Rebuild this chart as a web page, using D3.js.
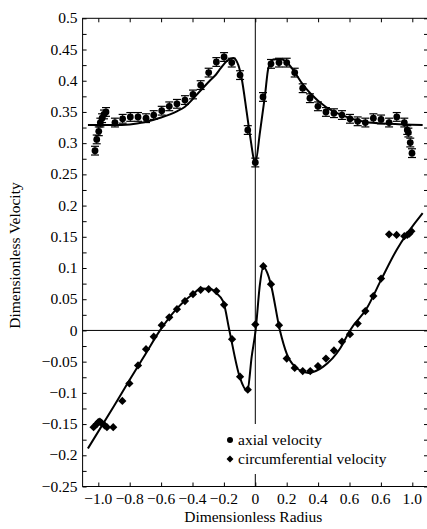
<!DOCTYPE html>
<html><head><meta charset="utf-8">
<script src="https://cdn.jsdelivr.net/npm/d3@7/dist/d3.min.js"></script>
<style>
html,body{margin:0;padding:0;background:#fff;}
svg{display:block;}
</style></head>
<body>
<svg id="chart" width="427" height="529"></svg>
<script>
// Axial velocity measurements (circles with error bars)
const axialR = [-1.021,-1.010,-0.997,-0.987,-0.976,-0.964,-0.951,-0.894,-0.845,-0.796,-0.747,-0.696,-0.647,-0.596,-0.548,-0.499,-0.448,-0.397,-0.348,-0.297,-0.248,-0.199,-0.150,-0.097,-0.048,0.0,0.049,0.100,0.151,0.200,0.251,0.302,0.348,0.399,0.450,0.501,0.552,0.603,0.652,0.701,0.752,0.801,0.852,0.901,0.949,0.968,0.975,0.987,0.998];
const axialV = [0.288,0.306,0.319,0.333,0.340,0.346,0.350,0.333,0.339,0.342,0.342,0.340,0.345,0.352,0.359,0.363,0.369,0.378,0.393,0.413,0.430,0.438,0.429,0.409,0.321,0.269,0.374,0.427,0.429,0.429,0.413,0.388,0.372,0.359,0.350,0.348,0.345,0.339,0.335,0.333,0.340,0.338,0.333,0.342,0.333,0.321,0.317,0.301,0.284];
const axialErr = axialR.map(() => 0.007);

// Circumferential velocity measurements (diamonds)
const circR = [-1.03,-1.01,-1.0,-0.99,-0.98,-0.96,-0.945,-0.905,-0.847,-0.802,-0.747,-0.696,-0.647,-0.596,-0.548,-0.499,-0.448,-0.397,-0.348,-0.297,-0.248,-0.199,-0.148,-0.097,-0.048,0.0,0.051,0.100,0.151,0.200,0.251,0.302,0.350,0.399,0.450,0.501,0.552,0.603,0.652,0.701,0.752,0.801,0.852,0.900,0.949,0.968,0.981,0.994];
const circV = [-0.155,-0.150,-0.147,-0.146,-0.148,-0.152,-0.155,-0.155,-0.113,-0.085,-0.056,-0.030,-0.010,0.0085,0.021,0.034,0.047,0.058,0.065,0.066,0.063,0.041,-0.014,-0.074,-0.095,0.0096,0.103,0.074,0.0085,-0.045,-0.060,-0.065,-0.065,-0.057,-0.045,-0.032,-0.018,-0.006,0.011,0.031,0.055,0.083,0.154,0.153,0.151,0.153,0.155,0.159];

// Fitted curves
const axialFitR = [-1.066,-0.9,-0.8,-0.7,-0.6,-0.5,-0.45,-0.35,-0.29,-0.25,-0.22,-0.18,-0.14,-0.108,-0.087,-0.055,-0.034,0.0,0.03,0.062,0.083,0.115,0.16,0.2,0.25,0.3,0.35,0.45,0.55,0.7,0.85,1.066];
const axialFitV = [0.329,0.329,0.330,0.334,0.341,0.351,0.358,0.384,0.400,0.410,0.420,0.432,0.4365,0.425,0.404,0.350,0.313,0.269,0.318,0.377,0.420,0.434,0.435,0.430,0.414,0.395,0.380,0.358,0.345,0.334,0.331,0.329];
const circFitR = [-1.066,-0.9,-0.8,-0.7,-0.607,-0.5,-0.4,-0.34,-0.28,-0.25,-0.204,-0.165,-0.1,-0.05,-0.023,0.002,0.03,0.051,0.075,0.098,0.157,0.2,0.253,0.338,0.433,0.54,0.603,0.709,0.805,0.9,1.066];
const circFitV = [-0.189,-0.121,-0.079,-0.038,0.0,0.035,0.058,0.067,0.066,0.060,0.046,0.0,-0.074,-0.097,-0.042,0.0,0.075,0.102,0.093,0.075,0.0,-0.037,-0.058,-0.068,-0.058,-0.029,0.0,0.035,0.083,0.129,0.188];

// Tick labels
const xTicks = [-1.0,-0.8,-0.6,-0.4,-0.2,0,0.2,0.4,0.6,0.8,1.0];
const xTickLabels = ["\u22121.0","\u22120.8","\u22120.6","\u22120.4","\u22120.2","0","0.2","0.4","0.6","0.6","1.0"];
const yTicks = [-0.25,-0.2,-0.15,-0.1,-0.05,0,0.05,0.1,0.15,0.2,0.25,0.3,0.35,0.4,0.45,0.5];
const yTickLabels = ["\u22120.25","\u22120.2","\u22120.15","\u22120.1","\u22120.05","0","0.05","0.1","0.15","0.2","0.25","0.3","0.35","0.4","0.45","0.5"];
const yMinorTicks = d3.range(-0.25, 0.5001, 0.025);
const legendLabels = ["axial velocity","circumferential velocity"];

const svg = d3.select("#chart");
const x = d3.scaleLinear().domain([-1.1, 1.1]).range([82.6, 428]);
const y = d3.scaleLinear().domain([-0.25, 0.5]).range([486.5, 18.3]);
const fs = 15.5;
const FONT = "'Liberation Serif', 'DejaVu Serif', serif";

const g = svg.append("g").attr("font-family", FONT);
g.append("rect").attr("x", x(-1.1)).attr("y", y(0.5)).attr("width", x(1.1)-x(-1.1)).attr("height", y(-0.25)-y(0.5))
  .attr("fill","none").attr("stroke","#000").attr("stroke-width",1);

g.append("line").attr("x1", x(-1.1)).attr("x2", x(1.1)).attr("y1", y(0)).attr("y2", y(0)).attr("stroke","#000");
g.append("line").attr("x1", x(0)).attr("x2", x(0)).attr("y1", y(0.5)).attr("y2", y(-0.25)).attr("stroke","#000");

const axLeft = d3.axisLeft(y).tickValues(yMinorTicks).tickSize(-4).tickFormat("");
const axRight = d3.axisRight(y).tickValues(yMinorTicks).tickSize(-4).tickFormat("");
const axBottom = d3.axisBottom(x).tickValues(xTicks).tickSize(-4).tickFormat("");
const axTop = d3.axisTop(x).tickValues(xTicks).tickSize(-4).tickFormat("");
[[axLeft,`translate(${x(-1.1)},0)`],[axRight,`translate(${x(1.1)},0)`],[axBottom,`translate(0,${y(-0.25)})`],[axTop,`translate(0,${y(0.5)})`]].forEach(([ax,tr])=>{
  const a = g.append("g").attr("transform", tr).call(ax);
  a.select(".domain").remove();
  a.selectAll("line").attr("stroke","#000");
});

g.selectAll(".ylab").data(yTicks).join("text").attr("class","ylab")
  .attr("x", x(-1.1) - 5).attr("y", d => y(d)).attr("dy","0.33em").attr("text-anchor","end")
  .attr("font-family", FONT).attr("font-size", fs).text((d,i) => yTickLabels[i]);
g.selectAll(".xlab").data(xTicks).join("text").attr("class","xlab")
  .attr("x", d => x(d)).attr("y", y(-0.25) + 17).attr("text-anchor","middle")
  .attr("font-family", FONT).attr("font-size", fs).text((d,i) => xTickLabels[i]);

g.append("text").attr("x", (x(-1.1)+x(1.1))/2 - 2).attr("y", 522).attr("text-anchor","middle")
  .attr("font-family", FONT).attr("font-size", fs).text("Dimensionless Radius");
g.append("text").attr("transform", `translate(20,${y(0.12)}) rotate(-90)`).attr("text-anchor","middle")
  .attr("font-family", FONT).attr("font-size", fs).text("Dimensionless Velocity");

const line = d3.line().x(d => x(d[0])).y(d => y(d[1])).curve(d3.curveMonotoneX);
g.append("path").attr("d", line(axialFitR.map((r,i)=>[r, axialFitV[i]]))).attr("fill","none").attr("stroke","#000").attr("stroke-width",2);
g.append("path").attr("d", line(circFitR.map((r,i)=>[r, circFitV[i]]))).attr("fill","none").attr("stroke","#000").attr("stroke-width",2);

const eb = g.append("g");
axialR.forEach((r,i) => {
  const cx = x(r), y1 = y(axialV[i]-axialErr[i]), y2 = y(axialV[i]+axialErr[i]);
  eb.append("line").attr("x1",cx).attr("x2",cx).attr("y1",y1).attr("y2",y2).attr("stroke","#000").attr("stroke-width",1);
  eb.append("line").attr("x1",cx-4).attr("x2",cx+4).attr("y1",y1).attr("y2",y1).attr("stroke","#000").attr("stroke-width",1.2);
  eb.append("line").attr("x1",cx-4).attr("x2",cx+4).attr("y1",y2).attr("y2",y2).attr("stroke","#000").attr("stroke-width",1.2);
});

g.selectAll(".ax").data(axialR).join("circle").attr("class","ax")
  .attr("cx", d => x(d)).attr("cy", (d,i) => y(axialV[i])).attr("r", 3.4).attr("fill","#000");
const diamond = d3.symbol().type(d3.symbolSquare).size(34);
g.selectAll(".ci").data(circR).join("path").attr("class","ci")
  .attr("transform", (d,i) => `translate(${x(d)},${y(circV[i])}) rotate(45)`).attr("d", diamond).attr("fill","#000");

const lg = g.append("g");
lg.append("rect").attr("x", 222).attr("y", 424).attr("width", 170).attr("height", 50).attr("fill","#fff");
lg.append("circle").attr("cx", 230).attr("cy", 440).attr("r", 3).attr("fill","#000");
lg.append("path").attr("transform","translate(230,459) rotate(45)").attr("d", d3.symbol().type(d3.symbolSquare).size(24)).attr("fill","#000");
legendLabels.forEach((t,i) => {
  lg.append("text").attr("x", 238).attr("y", 445 + i*19).attr("font-family", FONT).attr("font-size", fs).text(t);
});
</script>
</body></html>
